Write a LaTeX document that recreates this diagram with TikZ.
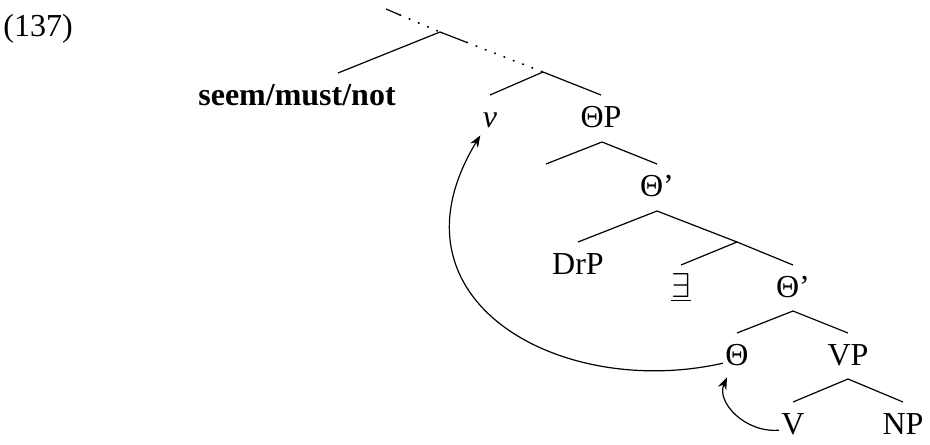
\documentclass[tikz,border=0pt]{standalone}
\usepackage{fontspec}
\setmainfont{Liberation Serif}
\usetikzlibrary{calc,arrows.meta}
\tikzset{
  cat/.style={anchor=north, inner xsep=1pt, inner ysep=5.5pt, text height=10.6pt, text depth=0pt},
  dots/.style={line width=0.9pt, dash pattern=on 0.3pt off 4.7pt, line cap=round},
  mv/.style={-{Stealth[length=6pt,width=4.5pt]}},
}
\begin{document}
\begin{tikzpicture}[x=0.5pt,y=-0.5pt,line width=0.6pt,font=\fontsize{16}{19}\selectfont]
\useasboundingbox (0,0) rectangle (930,444);
\node (num) at (38,29) {(137)};
\node[cat] (seem) at (297,73) {\textbf{seem/must/not}};
\node[cat] (v) at (490,95) {\textit{v}};
\node[cat] (thp) at (601,95) {ΘP};
\node[cat] (thb) at (657,164) {Θ’};
\node[cat] (drp) at (578,242) {DrP};
\node[cat] (ex) at (681,265) {$\underline{\exists}$};
\node[cat] (thc) at (793,265) {Θ’};
\node[cat] (th) at (737,333) {Θ};
\node[cat] (vp) at (848,333) {VP};
\node[cat] (vv) at (793,402) {V};
\node[cat] (np) at (903,402) {NP};
\coordinate (t0) at (386,9);
\coordinate (t1) at (440,32);
\coordinate (s0) at (338,73);
\coordinate (t2) at (543,72);
\coordinate (t3) at (602,142);
\coordinate (e1) at (546,164);
\coordinate (t4) at (657,211);
\coordinate (t5) at (737,242);
\coordinate (t6) at (793,311);
\coordinate (t7) at (848,379);
\draw (t0) -- ($(t0)!0.26!(t1)$);
\draw[dots] ($(t0)!0.26!(t1)$) -- (t1);
\draw (t1) -- (s0);
\draw (t1) -- ($(t1)!0.26!(t2)$);
\draw[dots] ($(t1)!0.26!(t2)$) -- (t2);
\draw (t2) -- (v.north);
\draw (t2) -- (thp.north);
\draw (t3) -- (e1);
\draw (t3) -- (thb.north);
\draw (t4) -- (drp.north);
\draw (t4) -- (t5);
\draw (t5) -- (ex.north);
\draw (t5) -- (thc.north);
\draw (t6) -- (th.north);
\draw (t6) -- (vp.north);
\draw (t7) -- (vv.north);
\draw (t7) -- (np.north);
% head movement
\draw[mv] ([yshift=-4pt]th.west) .. controls (560,400) and (380,300) .. ([yshift=2pt]v.south west);
\draw[mv] ([yshift=-3pt]vv.west) .. controls (745,433) and (716,402) .. ([xshift=-5pt]th.south);
\end{tikzpicture}
\end{document}
